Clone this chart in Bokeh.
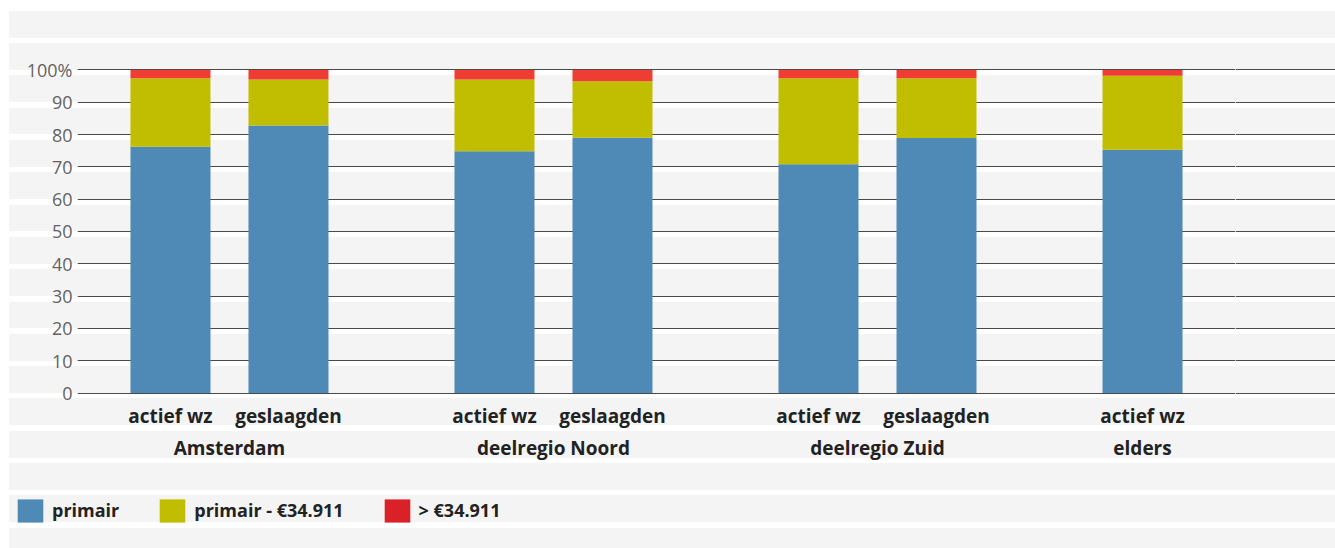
from bokeh.plotting import figure
from bokeh.layouts import row, column
from bokeh.models import FactorRange, Range1d, FixedTicker, Legend, LegendItem, ColumnDataSource, Grid
from bokeh.embed import file_html
from bokeh.resources import INLINE

# ---- data ----
regions = ["Amsterdam", "Amsterdam", "deelregio Noord", "deelregio Noord",
           "deelregio Zuid", "deelregio Zuid", "elders"]
groups = ["actief wz", "geslaagden", "actief wz", "geslaagden",
          "actief wz", "geslaagden", "actief wz"]
primair = [76.2, 82.8, 74.8, 79.0, 70.8, 78.9, 75.3]
primair_tot = [21.2, 14.2, 22.2, 17.5, 26.6, 18.5, 22.9]
boven = [2.6, 3.0, 3.0, 3.5, 2.6, 2.6, 1.8]
series_labels = ["primair", "primair - €34.911", "> €34.911"]
y_ticks = [0, 10, 20, 30, 40, 50, 60, 70, 80, 90, 100]
y_tick_labels = {100: "100%"}

bar_colors = ["#4f89b6", "#c1bd00", "#ef3d33"]
legend_colors = ["#4f89b6", "#c1bd00", "#da2128"]
GRID = "#4a4a4a"

TOP_H = 470     # height of the chart row
TOTAL_H = 548
PERIOD = 32.315


def bands(offset, top_white=False, left_white=True):
    w0 = (5.2 - offset) % PERIOD
    w1 = w0 + 5.5
    G, W = "#f4f4f4", "#ffffff"
    if w1 <= PERIOD:
        stops = [f"{G} 0px", f"{G} {w0:.2f}px", f"{W} {w0:.2f}px", f"{W} {w1:.2f}px",
                 f"{G} {w1:.2f}px", f"{G} {PERIOD}px"]
    else:
        r = w1 - PERIOD
        stops = [f"{W} 0px", f"{W} {r:.2f}px", f"{G} {r:.2f}px", f"{G} {w0:.2f}px",
                 f"{W} {w0:.2f}px", f"{W} {PERIOD}px"]
    layers = []
    if left_white:
        layers.append("linear-gradient(to right, #ffffff 0px, #ffffff 9px, rgba(255,255,255,0) 9px)")
    if top_white:
        layers.append("linear-gradient(to bottom, #ffffff 0px, #ffffff 10.5px, rgba(255,255,255,0) 10.5px)")
    layers.append("repeating-linear-gradient(to bottom, " + ", ".join(stops) + ")")
    return ", ".join(layers)


def clear(fig):
    fig.background_fill_color = None
    fig.border_fill_color = None
    fig.outline_line_color = None


factors = list(zip(regions, groups))
src = ColumnDataSource(dict(x=factors, primair=primair, tot=primair_tot, boven=boven))

xr = FactorRange(*factors, group_padding=0.746, range_padding=0.288, range_padding_units="absolute")
yr = Range1d(-2, 106)

p = figure(width=1235, height=TOP_H, x_range=xr, y_range=yr,
           output_backend="svg", toolbar_location=None, title=None,
           min_border_left=77, min_border_right=0,
           min_border_top=50, min_border_bottom=TOP_H - 399)
clear(p)
p.styles = {"background": bands(0, top_white=True)}

p.vbar_stack(["primair", "tot", "boven"], x="x", width=0.678, color=bar_colors,
             line_color=None, source=src)

# grid
p.xgrid.visible = False
p.ygrid.ticker = FixedTicker(ticks=y_ticks)
p.ygrid.grid_line_color = GRID
p.ygrid.grid_line_width = 1

# y axis
p.yaxis.ticker = FixedTicker(ticks=y_ticks)
p.yaxis.major_label_overrides = y_tick_labels
p.yaxis.axis_line_color = None
p.yaxis.major_tick_line_color = None
p.yaxis.minor_tick_line_color = None
p.yaxis.major_tick_out = 0
p.yaxis.major_tick_in = 0
p.yaxis.major_label_standoff = 5
p.yaxis.major_label_text_font = "Open Sans"
p.yaxis.major_label_text_font_size = "18px"
p.yaxis.major_label_text_color = "#626262"

# x axis
ax = p.xaxis[0]
ax.axis_line_color = None
ax.major_tick_line_color = None
ax.minor_tick_line_color = None
ax.major_tick_out = 0
ax.major_tick_in = 0
ax.separator_line_color = None
ax.major_label_standoff = 3
ax.major_label_text_font = "Open Sans"
ax.major_label_text_font_style = "bold"
ax.major_label_text_font_size = "19px"
ax.major_label_text_color = "#222222"
ax.group_text_font = "Open Sans"
ax.group_text_font_style = "bold"
ax.group_text_font_size = "19px"
ax.group_text_color = "#222222"

# continuation of the grid to the right edge
p2 = figure(width=100, height=TOP_H, x_range=Range1d(0, 1), y_range=yr,
            output_backend="svg", toolbar_location=None, title=None,
            x_axis_location=None, y_axis_location=None,
            min_border_left=0, min_border_right=0,
            min_border_top=50, min_border_bottom=TOP_H - 399)
clear(p2)
p2.styles = {"background": bands(0, top_white=True, left_white=False)}
p2.center = []
p2.add_layout(Grid(dimension=1, ticker=FixedTicker(ticks=y_ticks),
                   grid_line_color=GRID, grid_line_width=1))

# legend strip (swatch renderers sit outside the visible range)
p3 = figure(width=1335, height=TOTAL_H - TOP_H, x_range=Range1d(0, 1), y_range=Range1d(0, 1),
            output_backend="svg", toolbar_location=None, title=None,
            x_axis_location=None, y_axis_location=None,
            min_border_left=0, min_border_right=0, min_border_top=0, min_border_bottom=0)
clear(p3)
p3.styles = {"background": bands(TOP_H)}
p3.center = []
dummies = [p3.vbar(x=[10], top=[10], width=0.1, fill_color=c, line_color=None) for c in legend_colors]
legend = Legend(items=[LegendItem(label=l, renderers=[r]) for l, r in zip(series_labels, dummies)],
                orientation="horizontal", location=(14, 19),
                glyph_width=32, glyph_height=29, label_height=38, label_standoff=6, spacing=37,
                padding=0, margin=0, border_line_color=None, background_fill_alpha=0,
                label_text_font="Open Sans", label_text_font_style="bold",
                label_text_font_size="18px", label_text_color="#222222")
p3.add_layout(legend)

layout = column(row(p, p2, spacing=0), p3, spacing=0)
open("out.html", "w").write(file_html(layout, INLINE))
